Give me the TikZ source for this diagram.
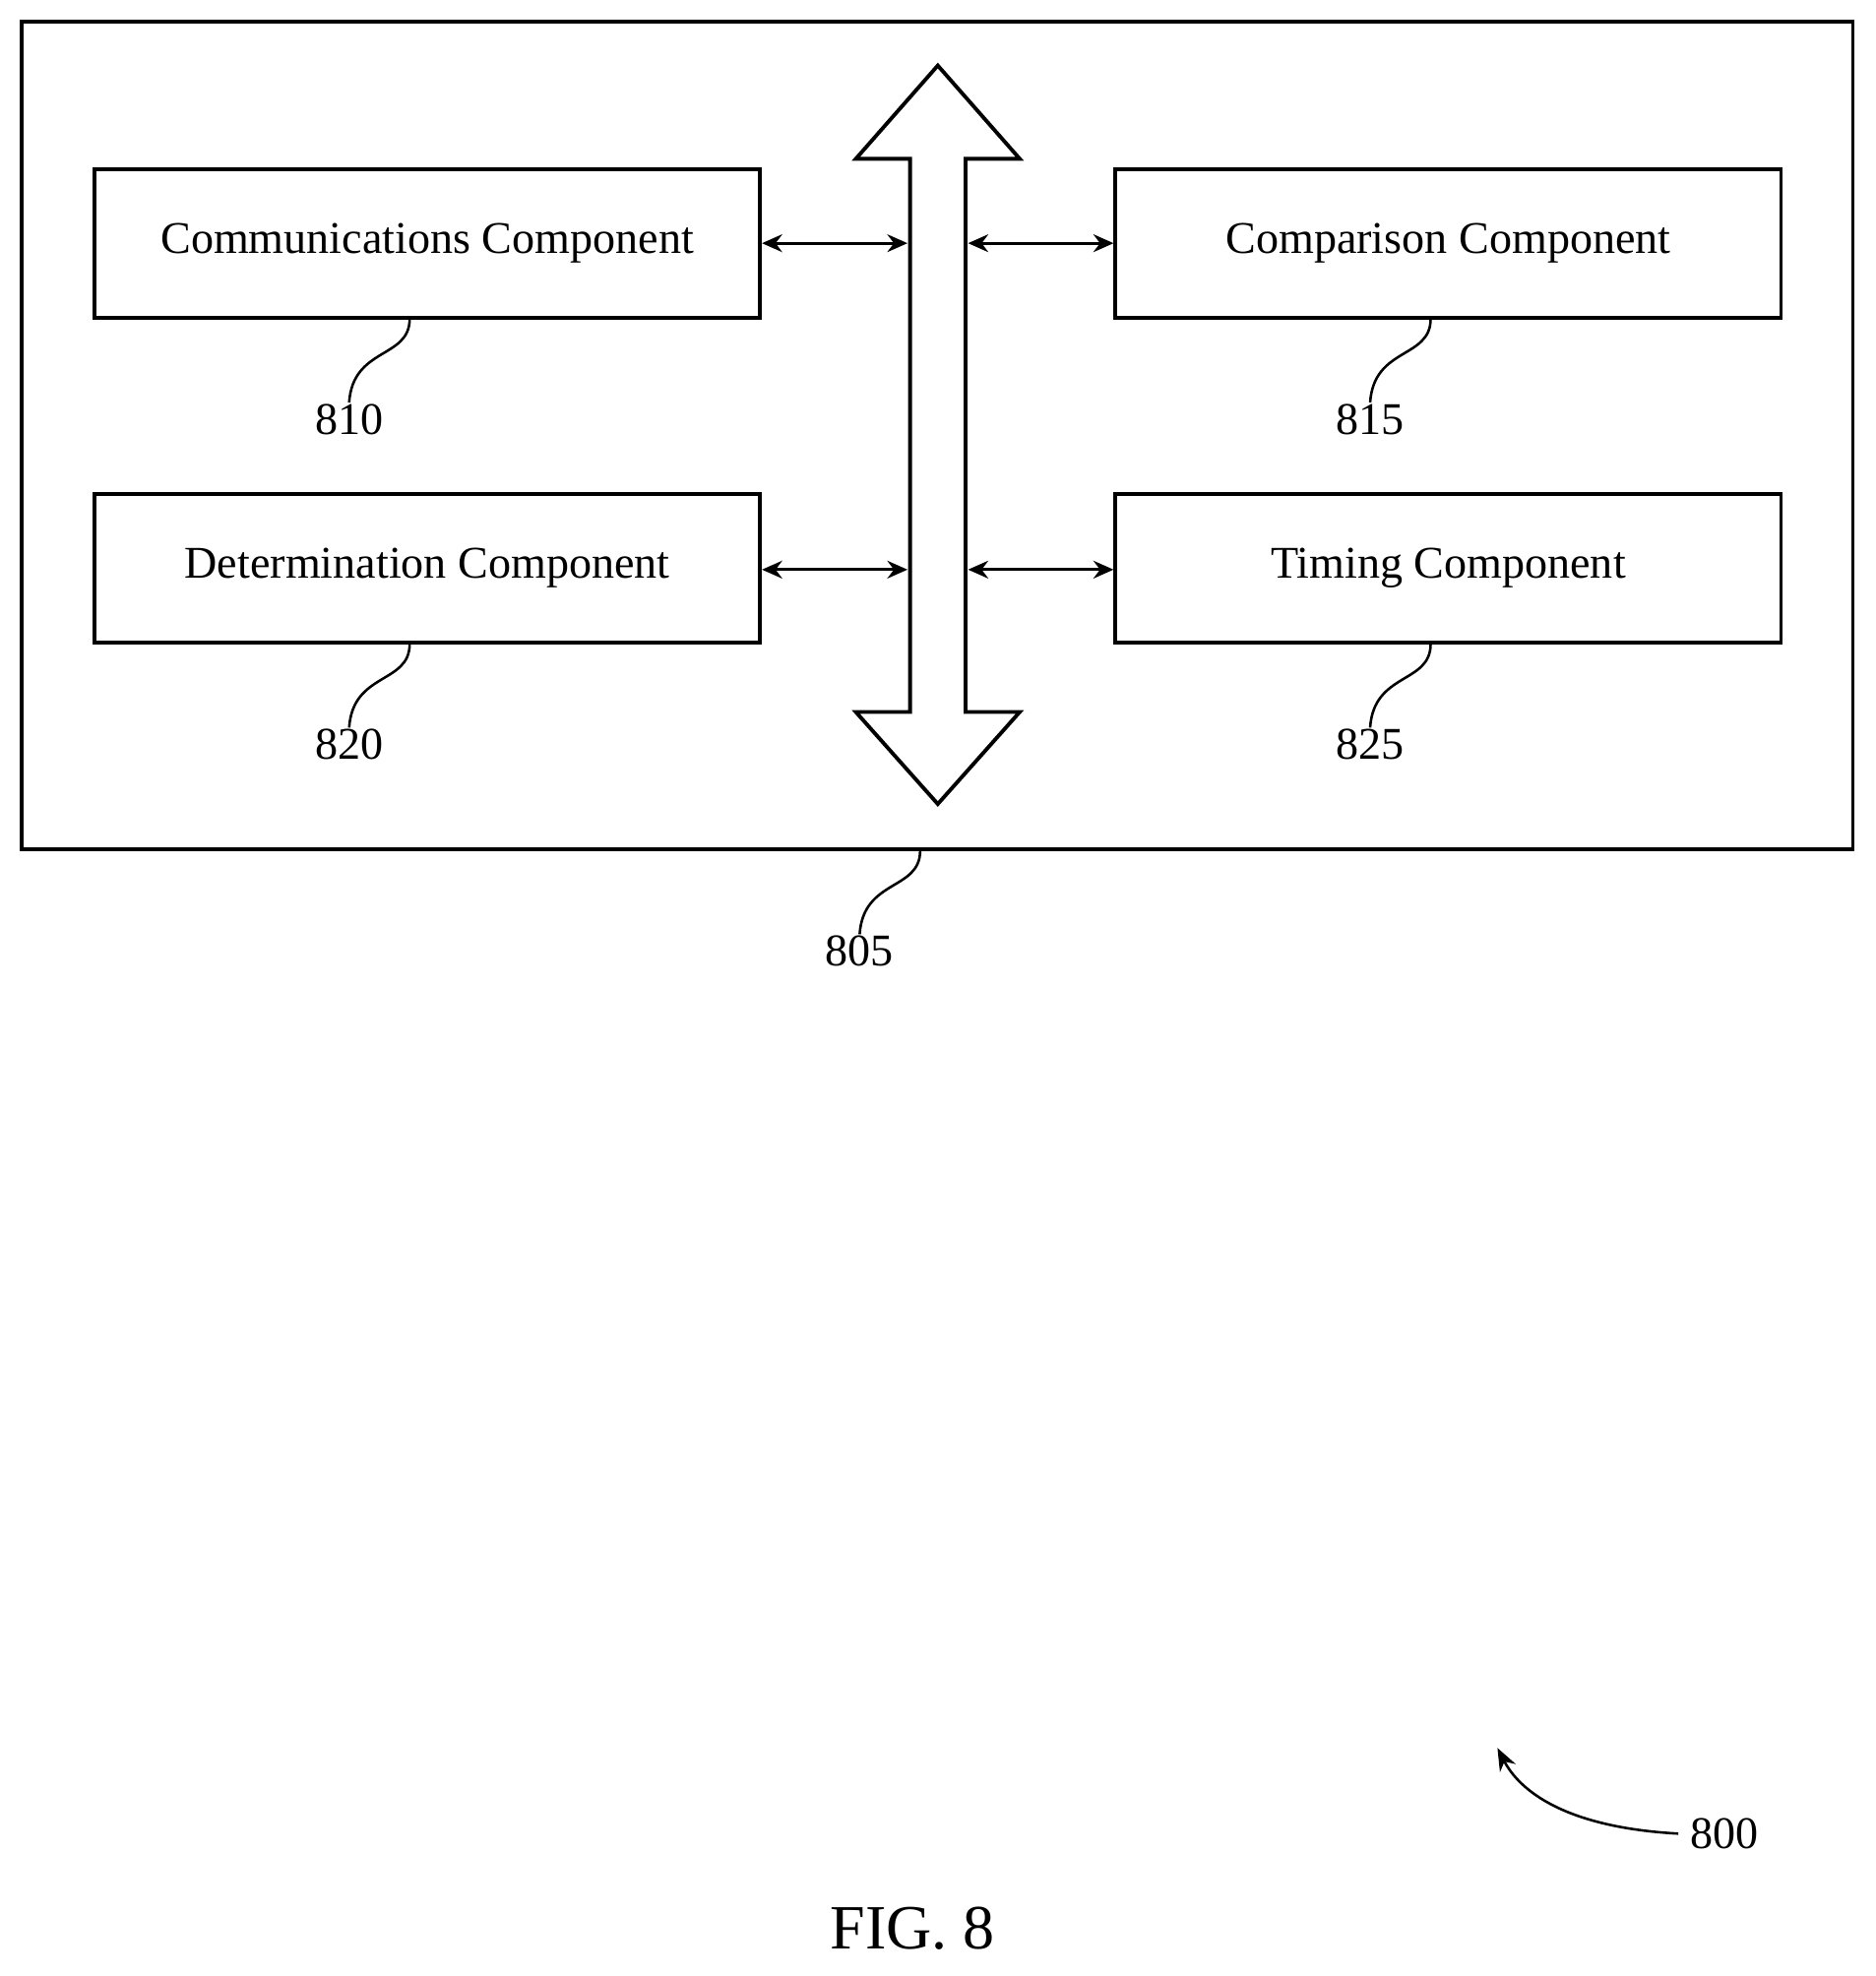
\documentclass[tikz,border=0pt]{standalone}
\usepackage{fontspec}
\setmainfont{Liberation Serif}
\usetikzlibrary{arrows.meta}
\begin{document}
\begin{tikzpicture}[x=1pt,y=-1pt,line width=3pt,
  box/.style={draw,minimum width=528pt,minimum height=118pt,inner sep=0pt,font=\fontsize{36}{40}\selectfont},
  lbl/.style={font=\fontsize{36}{40}\selectfont,inner sep=0pt},
  dbl/.style={{Stealth[length=16pt,width=14pt]}-{Stealth[length=16pt,width=14pt]},line width=2.5pt},
  lead/.style={line width=2pt}]
\useasboundingbox (0,0) rectangle (1488,1568);
\node[draw,minimum width=1453pt,minimum height=657pt,inner sep=0pt] (outer) at (743.5,345.5) {};
\node[box] (comm) at (339,193) {Communications Component};
\node[box] (comp) at (1149,193) {Comparison Component};
\node[box] (det) at (339,451) {Determination Component};
\node[box] (tim) at (1149,451) {Timing Component};
\draw[line join=miter,fill=white] (744,52) -- (809,126) -- (766,126) -- (766,565) -- (809,565) -- (744,638) -- (679,565) -- (722,565) -- (722,126) -- (679,126) -- cycle;
\coordinate (bl1) at (720,193); \coordinate (br1) at (768,193);
\coordinate (bl2) at (720,452); \coordinate (br2) at (768,452);
\draw[dbl] (comm.east) -- (bl1);
\draw[dbl] (br1) -- (comp.west);
\draw[dbl] (det.east |- bl2) -- (bl2);
\draw[dbl] (br2) -- (tim.west |- br2);
\node[lbl] (n810) at (277,333) {810};
\node[lbl] (n815) at (1087,333) {815};
\node[lbl] (n820) at (277,591) {820};
\node[lbl] (n825) at (1087,591) {825};
\node[lbl] (n805) at (682,755) {805};
\draw[lead] (325,253) .. controls (325,285) and (280,275) .. (n810.north);
\draw[lead] (1135,253) .. controls (1135,285) and (1090,275) .. (n815.north);
\draw[lead] (325,511) .. controls (325,543) and (280,533) .. (n820.north);
\draw[lead] (1135,511) .. controls (1135,543) and (1090,533) .. (n825.north);
\draw[lead] (730,675) .. controls (730,707) and (685,697) .. (n805.north);
\node[lbl] (n800) at (1368,1455) {800};
\draw[line width=2pt,-{Stealth[length=18pt,width=14pt]}] (n800.west) ++(-8,0) .. controls (1240,1450) and (1205,1420) .. (1188,1387);
\node[font=\fontsize{50}{56}\selectfont,inner sep=0pt] (fig) at (724,1530) {FIG. 8};
\end{tikzpicture}
\end{document}
